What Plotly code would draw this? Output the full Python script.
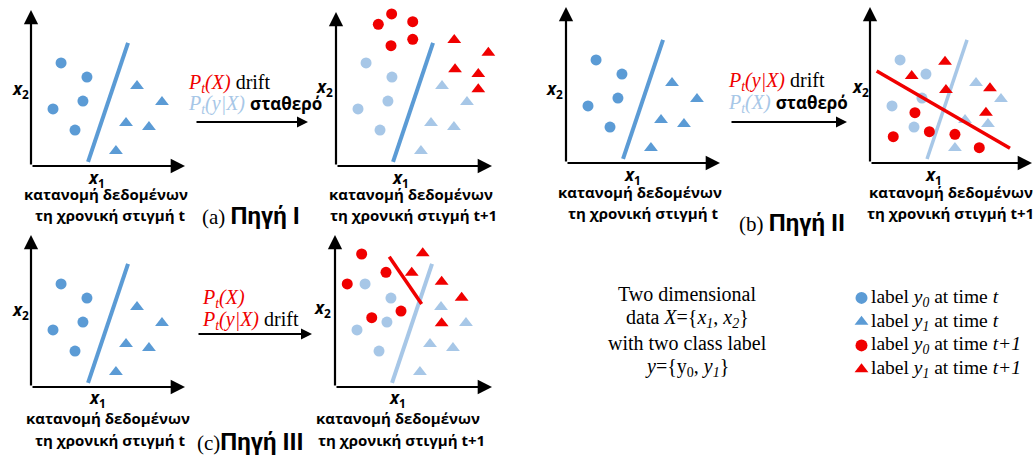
import plotly.graph_objects as go

W_FIG, H_FIG = 1036, 459
UNIT = 15.5  # pixels per data unit inside every panel

# ---------------- data (panel-local units) ----------------
# time t distribution (same in all left panels, drawn pale in right panels)
t_circ_x = [1.94, 3.61, 3.35, 1.42, 2.84]
t_circ_y = [6.65, 5.74, 4.19, 3.68, 2.32]
t_tri_x = [6.84, 8.45, 6.13, 7.61, 5.48]
t_tri_y = [5.16, 4.13, 2.77, 2.52, 0.97]
bound_x = [6.26, 3.68]
bound_y = [7.94, 0.26]

# (a) source I: P(X) drifts
a_red_circ_x = [3.59, 2.73, 4.95, 3.55, 4.95]
a_red_circ_y = [9.81, 9.14, 9.31, 7.76, 8.17]
a_red_tri_x = [7.63, 9.83, 7.68, 9.18, 9.18]
a_red_tri_y = [8.13, 7.31, 6.24, 5.94, 4.95]

# (b) source II: P(y|X) drifts
b_red_circ_x = [2.90, 1.50, 3.83, 5.48, 7.05]
b_red_circ_y = [3.25, 1.70, 2.02, 1.85, 0.99]
b_red_tri_x = [4.84, 2.69, 4.90, 7.74, 7.48]
b_red_tri_y = [6.54, 5.61, 4.71, 4.82, 3.25]
b_bound_x = [0.43, 9.03]
b_bound_y = [5.94, 0.95]

# (c) source III: both drift
c_red_circ_x = [1.72, 3.29, 0.79, 4.26, 2.37]
c_red_circ_y = [8.58, 7.40, 6.65, 4.90, 4.47]
c_red_tri_x = [5.66, 4.95, 6.88, 8.17, 6.88]
c_red_tri_y = [8.63, 7.37, 6.79, 5.76, 4.11]
c_bound_x = [3.50, 5.59]
c_bound_y = [8.41, 5.35]

legend_labels = [
    "label <i>y<sub>0</sub></i> at time <i>t</i>",
    "label <i>y<sub>1</sub></i> at time <i>t</i>",
    "label <i>y<sub>0</sub></i> at time <i>t+1</i>",
    "label <i>y<sub>1</sub></i> at time <i>t+1</i>",
]
caption1 = "κατανομή δεδομένων"
caption_t = "τη χρονική στιγμή t"
caption_t1 = "τη χρονική στιγμή t+1"

# ---------------- styles ----------------
BLUE = "#5B9BD5"
LBLUE = "#A7C7E7"
RED = "#F00000"
SANS = "Open Sans"
SERIF = "Liberation Serif"
NARROW = "Roboto"

# panel placement: origin (px), width, height (px)
panels = {
    "aL": (31, 166, 154, 156),
    "aR": (336, 166, 156, 154),
    "bL": (566, 163, 154, 156),
    "bR": (870, 163, 162, 156),
    "cL": (31, 387, 154, 152),
    "cR": (335, 387, 157, 152),
}
order = ["aL", "aR", "bL", "bR", "cL", "cR"]

fig = go.Figure()
layout = dict(width=W_FIG, height=H_FIG, margin=dict(l=0, r=0, t=0, b=0),
              paper_bgcolor="white", plot_bgcolor="white", showlegend=False)
annotations = []

def px(x):
    return x / W_FIG

def py(y):
    return 1 - y / H_FIG

for i, key in enumerate(order, start=1):
    ox, oy, W, H = panels[key]
    sfx = "" if i == 1 else str(i)
    layout["xaxis" + sfx] = dict(domain=[px(ox), px(ox + W)], range=[0, W / UNIT],
                                 visible=False, anchor="y" + sfx, fixedrange=True)
    layout["yaxis" + sfx] = dict(domain=[py(oy), py(oy - H)], range=[0, H / UNIT],
                                 visible=False, anchor="x" + sfx, fixedrange=True)
    xr, yr = "x" + sfx, "y" + sfx
    # axis arrows
    for (hx, hy) in [(W / UNIT, 0), (0, H / UNIT)]:
        annotations.append(dict(x=hx, y=hy, ax=0, ay=0, xref=xr, yref=yr, axref=xr, ayref=yr,
                                showarrow=True, arrowhead=2, arrowsize=1.3, arrowwidth=2.2,
                                arrowcolor="black", text=""))

def add_pts(xs, ys, sym, color, k, size):
    sfx = "" if k == 1 else str(k)
    fig.add_trace(go.Scatter(x=xs, y=ys, mode="markers", xaxis="x" + sfx, yaxis="y" + sfx,
                             marker=dict(symbol=sym, color=color, size=size, line=dict(width=0)),
                             cliponaxis=False, hoverinfo="skip"))

def add_line(xs, ys, color, k, width):
    sfx = "" if k == 1 else str(k)
    fig.add_trace(go.Scatter(x=xs, y=ys, mode="lines", xaxis="x" + sfx, yaxis="y" + sfx,
                             line=dict(color=color, width=width), cliponaxis=False,
                             hoverinfo="skip"))

CS, TS = 11, 12
# left panels (time t)
for k in (1, 3, 5):
    add_pts(t_circ_x, t_circ_y, "circle", BLUE, k, CS)
    add_pts(t_tri_x, t_tri_y, "triangle-up", BLUE, k, TS)
    add_line(bound_x, bound_y, BLUE, k, 4)

# (a) right
add_pts(t_circ_x, t_circ_y, "circle", LBLUE, 2, CS)
add_pts(t_tri_x, t_tri_y, "triangle-up", LBLUE, 2, TS)
add_line(bound_x, bound_y, BLUE, 2, 4)
add_pts(a_red_circ_x, a_red_circ_y, "circle", RED, 2, CS)
add_pts(a_red_tri_x, a_red_tri_y, "triangle-up", RED, 2, TS)

# (b) right
add_pts(t_circ_x, t_circ_y, "circle", LBLUE, 4, CS)
add_pts(t_tri_x, t_tri_y, "triangle-up", LBLUE, 4, TS)
add_line(bound_x, bound_y, LBLUE, 4, 3.5)
add_pts(b_red_circ_x, b_red_circ_y, "circle", RED, 4, CS)
add_pts(b_red_tri_x, b_red_tri_y, "triangle-up", RED, 4, TS)
add_line(b_bound_x, b_bound_y, RED, 4, 3.5)

# (c) right
add_pts(t_circ_x, t_circ_y, "circle", LBLUE, 6, CS)
add_pts(t_tri_x, t_tri_y, "triangle-up", LBLUE, 6, TS)
add_line(bound_x, bound_y, LBLUE, 6, 4)
add_pts(c_red_circ_x, c_red_circ_y, "circle", RED, 6, CS)
add_pts(c_red_tri_x, c_red_tri_y, "triangle-up", RED, 6, TS)
add_line(c_bound_x, c_bound_y, RED, 6, 3.5)

# legend markers on their own hidden axis (rows 0..3)
layout["xaxis7"] = dict(domain=[px(855), px(868)], range=[0, 1], visible=False,
                        anchor="y7", fixedrange=True)
layout["yaxis7"] = dict(domain=[py(381), py(286)], range=[3.5, -0.5], visible=False,
                        anchor="x7", fixedrange=True)
leg_sym = ["circle", "triangle-up", "circle", "triangle-up"]
leg_col = [BLUE, BLUE, RED, RED]
for r in range(4):
    add_pts([0.5], [r], leg_sym[r], leg_col[r], 7, 12)
    annotations.append(dict(x=px(869), y=py(298 + r * 23.7), xref="paper", yref="paper",
                            xanchor="left", yanchor="middle", showarrow=False, align="left",
                            text=legend_labels[r], font=dict(family=SERIF, size=19.5, color="black")))

def txt(x, y, text, size=14, family=SANS, anchor="center", color="black"):
    annotations.append(dict(x=px(x), y=py(y), xref="paper", yref="paper", text=text,
                            xanchor=anchor, yanchor="middle", showarrow=False,
                            align="left" if anchor == "left" else "center",
                            font=dict(family=family, size=size, color=color)))

# axis labels
x2_pos = [(20, 90), (324, 87), (554, 90), (860, 87), (20, 310), (322, 308)]
x1_pos = [(96, 178), (400, 178), (632, 175), (933, 175), (97, 398), (397, 398)]
for (x, y) in x2_pos:
    txt(x, y, "<b><i>x</i><sub>2</sub></b>", size=17)
for (x, y) in x1_pos:
    txt(x, y, "<b><i>x</i><sub>1</sub></b>", size=17)

# captions
cap = [((106, 194), (110, 215), caption_t), ((411, 194), (413, 215), caption_t1),
       ((640, 192), (643, 213), caption_t), ((951, 192), (950, 213), caption_t1),
       ((108, 418), (110, 440), caption_t), ((398, 418), (401, 440), caption_t1)]
for (p1, p2, second) in cap:
    txt(p1[0], p1[1], "<b>" + caption1 + "</b>", size=15)
    txt(p2[0], p2[1], "<b>" + second + "</b>", size=15)

def src(x, y, letter, roman, gap=" "):
    t = ("<span style='font-family:%s'>(%s)%s</span>" % (SERIF, letter, gap) +
         "<span style='font-family:%s;font-size:24px'><b>Πηγή %s</b></span>" % (NARROW, roman))
    txt(x, y, t, size=21, family=SERIF, anchor="left")

src(200, 216, "a", "I")
src(737, 223, "b", "II")
src(195, 442, "c", "III", gap="")

# transition arrows
def hArrow(x0, x1, y):
    annotations.append(dict(x=px(x1), y=py(y), xref="paper", yref="paper", ax=-(x1 - x0), ay=0,
                            showarrow=True, arrowhead=2, arrowsize=1.1, arrowwidth=2,
                            arrowcolor="black", text=""))

hArrow(195, 308, 122)
hArrow(730, 847, 122)
hArrow(197, 312, 334)

PT = "<span style='color:%s'><i>P<sub>t</sub>(%s)</i></span>"
SIG = "<span style='font-family:%s;font-size:17px'><b>σταθερό</b></span>" % SANS
txt(186, 83, (PT % (RED, "X")) + " drift", size=20, family=SERIF, anchor="left")
txt(186, 105, (PT % (LBLUE, "y|X")) + " " + SIG, size=20, family=SERIF, anchor="left")
txt(726, 81, (PT % (RED, "y|X")) + " drift", size=20, family=SERIF, anchor="left")
txt(726, 104, (PT % (LBLUE, "X")) + " " + SIG, size=20, family=SERIF, anchor="left")
txt(200, 298, (PT % (RED, "X")), size=20, family=SERIF, anchor="left")
txt(200, 320, (PT % (RED, "y|X")) + " drift", size=20, family=SERIF, anchor="left")

# description
desc = ["Two dimensional",
        "data <i>X</i>={<i>x<sub>1</sub></i>, <i>x<sub>2</sub></i>}",
        "with two class label",
        "<i>y</i>={y<sub>0</sub>, <i>y<sub>1</sub></i>}"]
for r, line in enumerate(desc):
    txt(687, 294 + r * 24.5, line, size=20, family=SERIF)

layout["annotations"] = annotations
fig.update_layout(**layout)
fig.write_html("out.html", config={"displayModeBar": False},
               post_script="document.body.style.margin='0';")
